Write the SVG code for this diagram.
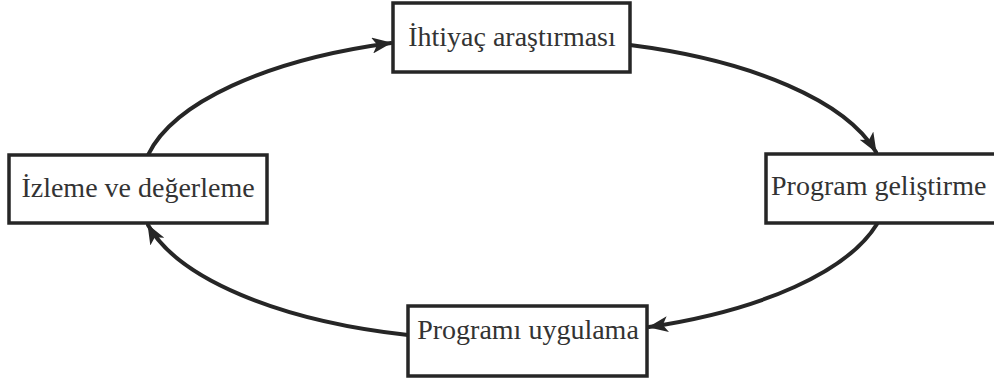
<svg xmlns="http://www.w3.org/2000/svg" width="994" height="381" viewBox="0 0 994 381">
<style>
.box{fill:#fff;stroke:#262626;stroke-width:3.5}
.lbl{font-family:"Liberation Serif","Times New Roman",serif;font-size:28px;fill:#333}
.conn{fill:none;stroke:#262626;stroke-width:4;stroke-linecap:round}
</style>
<defs>
<marker id="ah" viewBox="0 0 20 16" markerWidth="20" markerHeight="16" refX="19" refY="8" orient="auto" markerUnits="userSpaceOnUse">
<path d="M0,0 L20,8 L0,16 L5,8 Z" fill="#262626"/>
</marker>
</defs>
<rect width="994" height="381" fill="#fff"/>
<g id="connectors">
<path class="conn" d="M148,155 A365,148 0 0 1 391,43" marker-end="url(#ah)"/>
<path class="conn" d="M630,45 A365,148 0 0 1 876,152" marker-end="url(#ah)"/>
<path class="conn" d="M877,224 A365,148 0 0 1 649,327" marker-end="url(#ah)"/>
<path class="conn" d="M408,335 A365,148 0 0 1 148,225" marker-end="url(#ah)"/>
</g>
<g id="node-ihtiyac">
<rect class="box" x="393" y="3" width="237" height="69"/>
<text class="lbl" x="512" y="46" text-anchor="middle">İhtiyaç araştırması</text>
</g>
<g id="node-program-gelistirme">
<rect class="box" x="766" y="154" width="240" height="69"/>
<text class="lbl" x="771" y="195">Program geliştirme</text>
</g>
<g id="node-programi-uygulama">
<rect class="box" x="408" y="306" width="239" height="70"/>
<text class="lbl" x="528" y="339" text-anchor="middle">Programı uygulama</text>
</g>
<g id="node-izleme">
<rect class="box" x="9" y="155" width="258" height="68"/>
<text class="lbl" x="138" y="197" text-anchor="middle">İzleme ve değerleme</text>
</g>
</svg>
